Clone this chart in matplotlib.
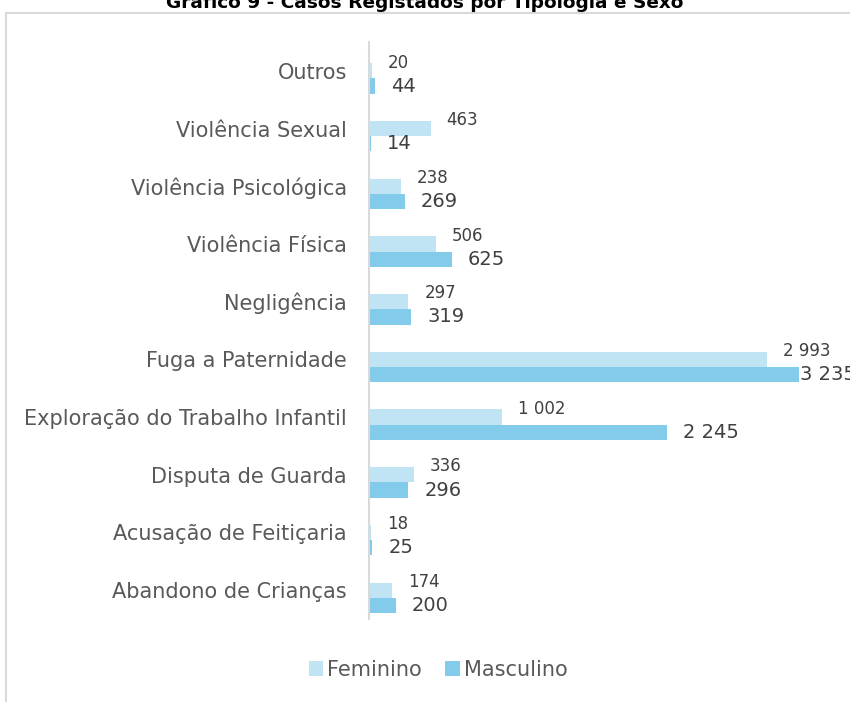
import matplotlib
matplotlib.use('Agg')
import matplotlib.pyplot as plt
from matplotlib.patches import Rectangle, Patch

plt.rcParams['font.family'] = ['DejaVu Sans']

categorias = ['Outros', 'Violência Sexual', 'Violência Psicológica', 'Violência Física',
              'Negligência', 'Fuga a Paternidade', 'Exploração do Trabalho Infantil',
              'Disputa de Guarda', 'Acusação de Feitiçaria', 'Abandono de Crianças']
feminino = [20, 463, 238, 506, 297, 2993, 1002, 336, 18, 174]
masculino = [44, 14, 269, 625, 319, 3235, 2245, 296, 25, 200]

cor_fem = '#C1E4F5'
cor_masc = '#83CBEB'
cinza = '#595959'

W, H = 850, 702
fig = plt.figure(figsize=(W / 100, H / 100), dpi=100)

# moldura do gráfico (só se vê a esquerda e o topo)
fig.patches.append(Rectangle((6 / W, -0.2), 2.0, (H - 13) / H + 0.2, fill=False,
                             edgecolor='#D9D9D9', linewidth=1.5, transform=fig.transFigure))

fig.text(0.5, (H - 8) / H, 'Gráfico 9 - Casos Registados por Tipologia e Sexo',
         ha='center', va='baseline', fontsize=13.3, fontweight='bold', color='black')

ax = fig.add_axes([369 / W, (H - 619) / H, 1 - 369 / W, (619 - 42) / H])
ax.set_xlim(0, 3235 * (W - 369) / 430)
ax.set_ylim(9.5, -0.5)

h = 0.265
pos = list(range(len(categorias)))
ax.barh(pos, feminino, height=h, color=cor_fem, label='Feminino')
ax.barh([p + h for p in pos], masculino, height=h, color=cor_masc, label='Masculino')

def fmt(v):
    return f'{v:,}'.replace(',', ' ')

for p, v in zip(pos, feminino):
    ax.annotate(fmt(v), (v, p), xytext=(11.5, 6), textcoords='offset points',
                ha='left', va='center', fontsize=12, color='#404040', annotation_clip=False)
for p, v in zip(pos, masculino):
    pad = 0.7 if v == max(masculino) else 11.5
    ax.annotate(fmt(v), (v, p + h), xytext=(pad, 0), textcoords='offset points',
                ha='left', va='center', fontsize=14, color='#404040', annotation_clip=False)

ax.set_yticks(pos)
ax.set_yticklabels(categorias, fontsize=15, color=cinza)
ax.tick_params(axis='y', length=0, pad=16)
ax.set_xticks([])
for s in ['top', 'right', 'bottom']:
    ax.spines[s].set_visible(False)
ax.spines['left'].set_color('#D9D9D9')
ax.spines['left'].set_linewidth(1.5)

handles = [Patch(facecolor=cor_fem, label='Feminino'), Patch(facecolor=cor_masc, label='Masculino')]
fig.legend(handles=handles, loc='center', bbox_to_anchor=(438 / W, (H - 670) / H), ncol=2,
           frameon=False, fontsize=15, handlelength=0.7, handleheight=0.7, handletextpad=0.2,
           columnspacing=1.1, labelcolor=cinza)

fig.savefig('out.png', dpi=100)
